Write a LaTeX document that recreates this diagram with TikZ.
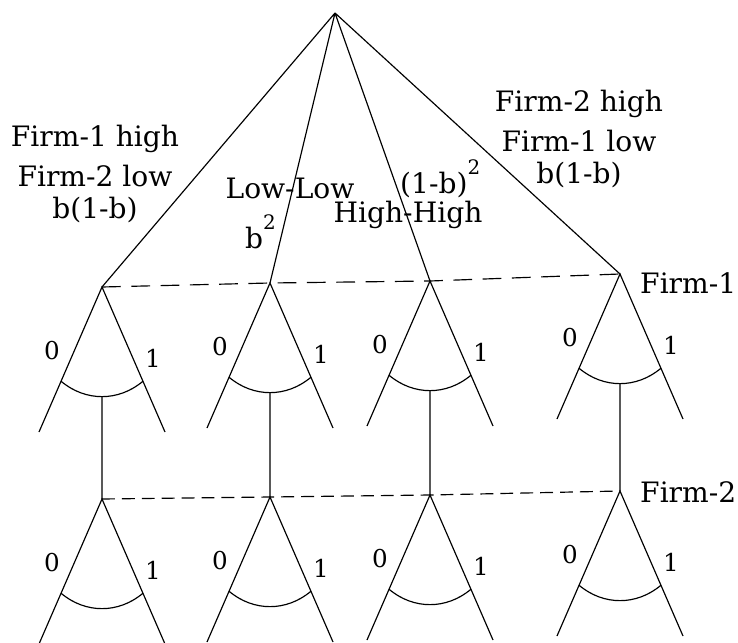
\documentclass[tikz,border=0pt]{standalone}
\usepackage{fontspec}
\setmainfont{DejaVu Serif}
\usetikzlibrary{calc}
\newcommand{\sqr}{\raisebox{16pt}{\fontsize{17}{17}\selectfont 2}}
\tikzset{edge/.style={draw=black,line width=1pt},info1/.style={edge,dash pattern=on 16pt off 9pt},info2/.style={edge,dash pattern=on 11pt off 6pt},lbl/.style={font=\fontsize{24}{34}\selectfont,inner sep=0pt,align=center,anchor=base},act/.style={font=\fontsize{21}{22}\selectfont,inner sep=0pt}}

\begin{document}
\begin{tikzpicture}[x=0.3mm,y=-0.3mm]
\useasboundingbox (0,0) rectangle (738,643);
\coordinate (r) at (335,13);
\coordinate (a1) at (102,287);
\coordinate (a2) at (270,283);
\coordinate (a3) at (430,281);
\coordinate (a4) at (620,274);
\coordinate (b1) at (102,499);
\coordinate (b2) at (270,497);
\coordinate (b3) at (430,495);
\coordinate (b4) at (620,491);
\draw[edge] (r)--(a1) (r)--(a2) (r)--(a3) (r)--(a4);
\draw[info1] (a1)--(a2)--(a3)--(a4);
\draw[info2] (b1)--(b2)--(b3)--(b4);
\foreach \i in {1,...,4}{
  \foreach \lv in {a,b}{
    \coordinate (\lv\i l) at ($(\lv\i)+(-63,145)$);
    \coordinate (\lv\i r) at ($(\lv\i)+(63,145)$);
    \draw[edge] (\lv\i l)--(\lv\i)--(\lv\i r);
    \draw[edge] ($(\lv\i)!0.65!(\lv\i l)$) to[bend right=40] coordinate[pos=.5] (\lv\i m) ($(\lv\i)!0.65!(\lv\i r)$);
    \node[act] (\lv\i z) at ($(\lv\i)+(-50,64)$) {0};
    \node[act] (\lv\i o) at ($(\lv\i)+(51,71)$) {1};
  }
  \draw[edge] (a\i m)--(b\i);
}
\node[lbl] (t1) at (95,218) {Firm-1 high\\Firm-2 low\\[-7pt]b(1-b)};
\node[lbl] (t4) at (579,183) {Firm-2 high\\Firm-1 low\\[-7pt]b(1-b)};
\node[lbl] (t2) at (290,198) {Low-Low};
\node[lbl,anchor=base west] (t2s) at (245,248) {b\sqr};
\node[lbl,anchor=base west] (t3s) at (400,193) {(1-b)\sqr};
\node[lbl] (t3) at (408,222) {High-High};
\node[lbl,anchor=base west] (p1) at (640,293) {Firm-1};
\node[lbl,anchor=base west] (p2) at (640,502) {Firm-2};
\end{tikzpicture}
\end{document}
